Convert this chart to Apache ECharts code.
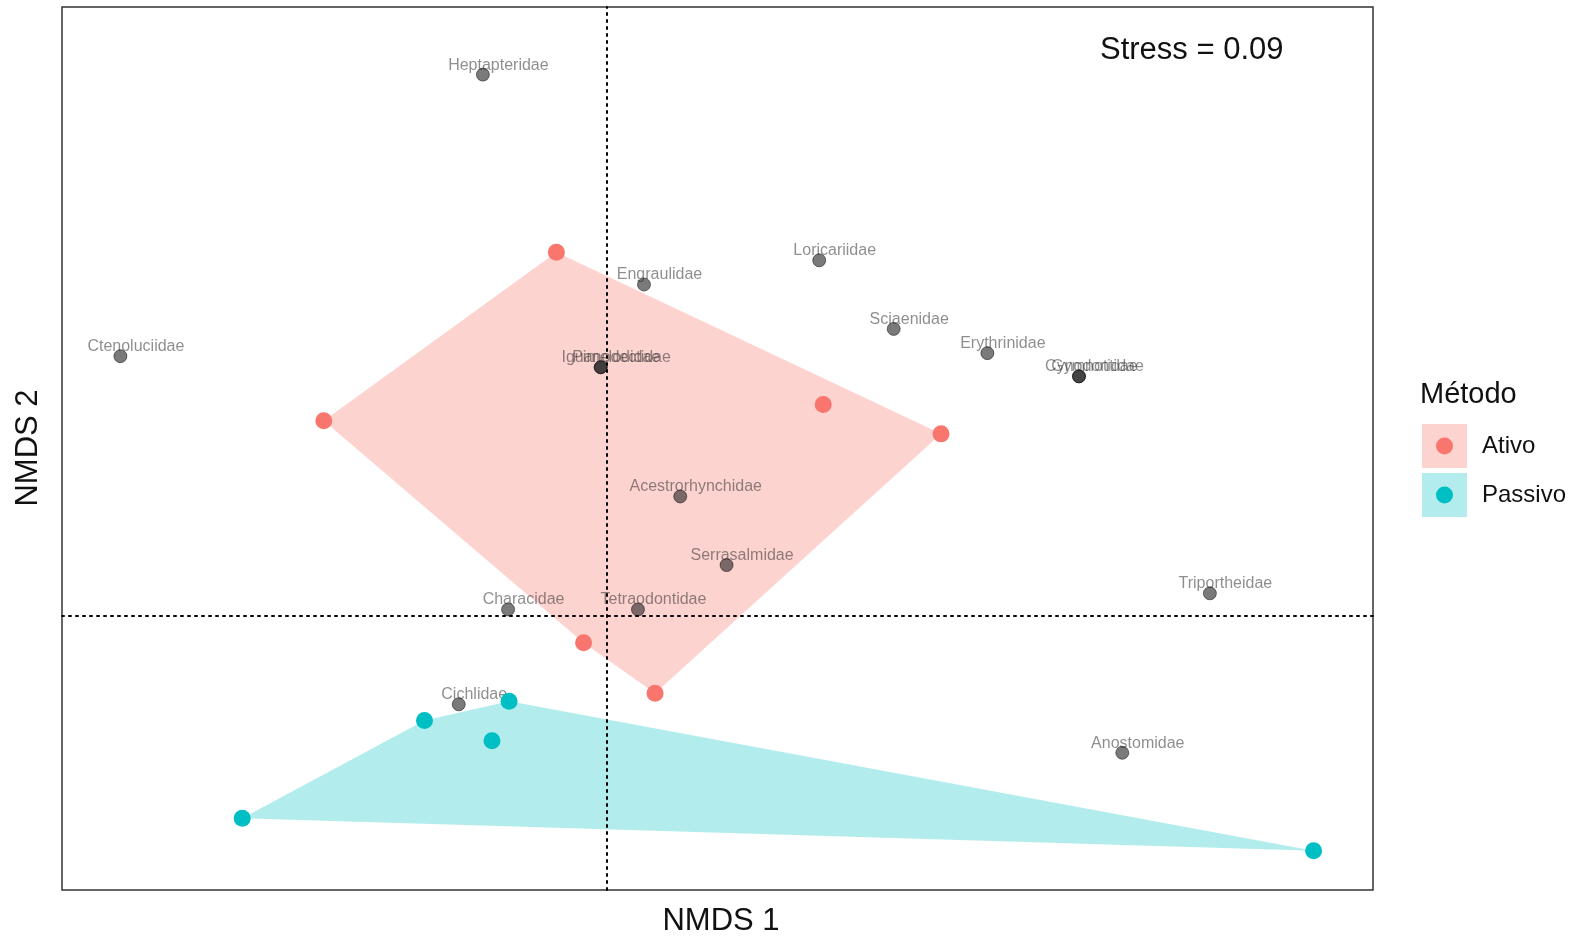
<!DOCTYPE html>
<html>
<head>
<meta charset="utf-8">
<script src="https://cdn.jsdelivr.net/npm/echarts@6/dist/echarts.min.js"></script>
<style>
  html, body { margin: 0; padding: 0; background: #fff; }
  #chart { width: 1579px; height: 937px; }
</style>
</head>
<body>
<div id="chart"></div>
<script>
// NMDS site scores and family (species) scores
const familyNames = [
  'Heptapteridae', 'Loricariidae', 'Engraulidae', 'Ctenoluciidae',
  'Iguanodectidae', 'Pimelodidae', 'Sciaenidae', 'Erythrinidae',
  'Cynodontidae', 'Gymnotidae', 'Acestrorhynchidae', 'Serrasalmidae',
  'Triportheidae', 'Characidae', 'Tetraodontidae', 'Cichlidae', 'Anostomidae'
];
const familyNMDS1 = [-0.246, 0.422, 0.074, -0.966, -0.012, -0.012, 0.570, 0.756,
  0.938, 0.938, 0.146, 0.238, 1.198, -0.196, 0.062, -0.294, 1.024];
const familyNMDS2 = [1.072, 0.704, 0.656, 0.514, 0.492, 0.492, 0.568, 0.520,
  0.474, 0.474, 0.236, 0.100, 0.044, 0.012, 0.012, -0.176, -0.272];

const ativoNMDS1 = [-0.100, -0.562, 0.430, 0.664, -0.046, 0.096];
const ativoNMDS2 = [0.720, 0.386, 0.418, 0.360, -0.054, -0.154];

const passivoNMDS1 = [-0.724, -0.362, -0.194, -0.228, 1.404];
const passivoNMDS2 = [-0.402, -0.208, -0.170, -0.248, -0.466];

const groupNames = ['Ativo', 'Passivo'];
const groupColors = ['#F8766D', '#00BFC4'];
const hullColors = ['rgba(248,118,109,0.32)', 'rgba(0,191,196,0.30)'];
const stressLabel = 'Stress = 0.09';

const FONT = '"Liberation Sans", Arial, sans-serif';
const FAMILY_SYMBOL = 13;

function zipPoints(xs, ys) {
  return xs.map((x, i) => [x, ys[i]]);
}

// Convex hull (monotone chain) of a set of points
function convexHull(pts) {
  const p = pts.slice().sort((a, b) => a[0] - b[0] || a[1] - b[1]);
  const cross = (o, a, b) => (a[0] - o[0]) * (b[1] - o[1]) - (a[1] - o[1]) * (b[0] - o[0]);
  const lower = [];
  for (const q of p) {
    while (lower.length >= 2 && cross(lower[lower.length - 2], lower[lower.length - 1], q) <= 0) lower.pop();
    lower.push(q);
  }
  const upper = [];
  for (let i = p.length - 1; i >= 0; i--) {
    const q = p[i];
    while (upper.length >= 2 && cross(upper[upper.length - 2], upper[upper.length - 1], q) <= 0) upper.pop();
    upper.push(q);
  }
  upper.pop(); lower.pop();
  return lower.concat(upper);
}

const groupPoints = [
  zipPoints(ativoNMDS1, ativoNMDS2),
  zipPoints(passivoNMDS1, passivoNMDS2)
];
const hulls = groupPoints.map(convexHull);

const familyData = familyNames.map((n, i) => ({ name: n, value: [familyNMDS1[i], familyNMDS2[i]] }));

const hullSeries = hulls.map((hull, g) => ({
  type: 'custom',
  name: groupNames[g] + ' hull',
  z: 1,
  silent: true,
  data: [0],
  renderItem: function (params, api) {
    const pts = hull.map(p => api.coord(p));
    return {
      type: 'polygon',
      shape: { points: pts },
      style: { fill: hullColors[g], stroke: 'none' }
    };
  }
}));

const chart = echarts.init(document.getElementById('chart'), null, { renderer: 'canvas' });

// Legend key geometry
const keyX = 1422, keyW = 45, keyH = 44, keyY = [424, 473];

const legendGraphics = [
  {
    type: 'text', left: 1420, top: 380,
    style: { text: 'Método', font: '29px ' + FONT, fill: '#111' }
  }
];
groupNames.forEach((n, g) => {
  legendGraphics.push({
    type: 'rect',
    shape: { x: keyX, y: keyY[g], width: keyW, height: keyH },
    style: { fill: hullColors[g] }
  });
  legendGraphics.push({
    type: 'circle',
    shape: { cx: keyX + keyW / 2, cy: keyY[g] + keyH / 2, r: 8.5 },
    style: { fill: groupColors[g] }
  });
  legendGraphics.push({
    type: 'text', x: 1482, y: keyY[g] + keyH / 2,
    style: { text: n, font: '24px ' + FONT, fill: '#111', verticalAlign: 'middle' }
  });
});

const option = {
  animation: false,
  backgroundColor: '#ffffff',
  grid: {
    left: 62, top: 7, right: 206, bottom: 47,
    show: true, borderColor: '#333333', borderWidth: 1.5, backgroundColor: '#ffffff'
  },
  xAxis: {
    type: 'value', min: -1.082, max: 1.522,
    axisLine: { show: false }, axisTick: { show: false },
    axisLabel: { show: false }, splitLine: { show: false }
  },
  yAxis: {
    type: 'value', min: -0.544, max: 1.206,
    axisLine: { show: false }, axisTick: { show: false },
    axisLabel: { show: false }, splitLine: { show: false }
  },
  graphic: [
    {
      type: 'text', x: 1100, y: 50,
      style: { text: stressLabel, font: '31px ' + FONT, fill: '#111', verticalAlign: 'middle' }
    },
    {
      type: 'text', x: 721, y: 921,
      style: { text: 'NMDS 1', font: '31px ' + FONT, fill: '#111', align: 'center', verticalAlign: 'middle' }
    },
    {
      type: 'text', x: 28, y: 448, rotation: Math.PI / 2,
      style: { text: 'NMDS 2', font: '31px ' + FONT, fill: '#111', align: 'center', verticalAlign: 'middle' }
    }
  ].concat(legendGraphics),
  series: hullSeries.concat([
    {
      type: 'scatter',
      name: 'reference lines',
      z: 2,
      silent: true,
      symbolSize: 0,
      data: [],
      markLine: {
        silent: true,
        symbol: ['none', 'none'],
        label: { show: false },
        lineStyle: { color: '#000', type: [2, 5], width: 2, cap: 'round' },
        data: [{ xAxis: 0 }, { yAxis: 0 }]
      }
    },
    {
      type: 'scatter',
      name: 'Famílias',
      z: 3,
      symbolSize: FAMILY_SYMBOL,
      itemStyle: { color: 'rgba(30,30,30,0.74)', borderColor: 'rgba(0,0,0,0.6)', borderWidth: 1 },
      label: {
        show: true,
        formatter: '{b}',
        position: [FAMILY_SYMBOL / 2 + 16, FAMILY_SYMBOL / 2 - 9],
        align: 'center',
        verticalAlign: 'middle',
        fontFamily: FONT,
        fontSize: 16,
        color: 'rgba(40,40,40,0.66)'
      },
      labelLayout: { hideOverlap: false },
      data: familyData
    }
  ]).concat(groupNames.map((n, g) => ({
    type: 'scatter',
    name: n,
    z: 4,
    symbolSize: 17,
    itemStyle: { color: groupColors[g], opacity: 1 },
    data: groupPoints[g]
  })))
};

chart.setOption(option);
</script>
</body>
</html>
